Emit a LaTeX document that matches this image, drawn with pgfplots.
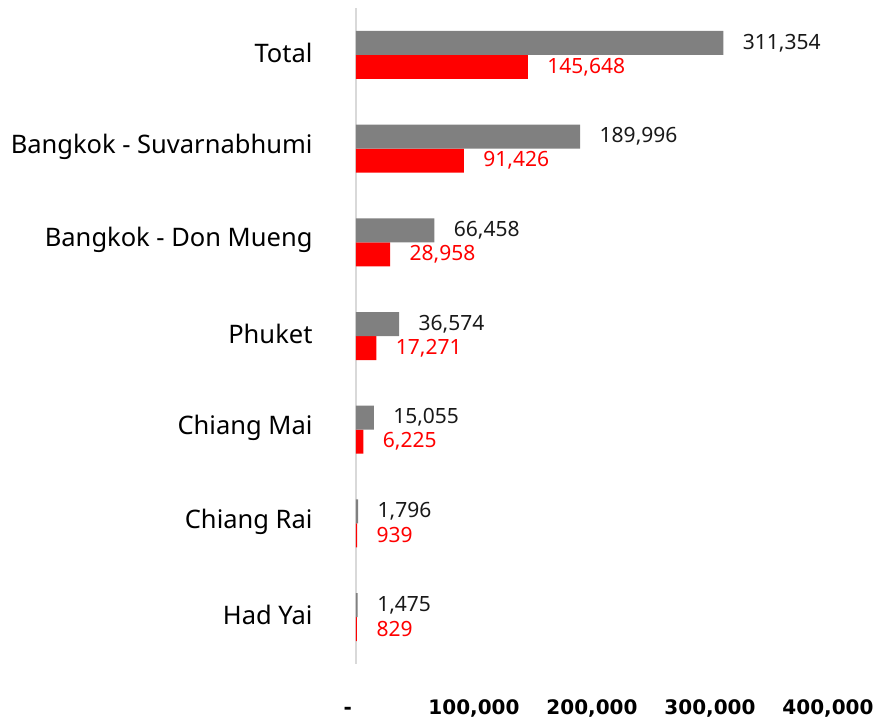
\documentclass[border=0pt]{standalone}
\usepackage{pgfplots}
\pgfplotsset{compat=1.18}
\usepackage{fontspec}
\setmainfont{Noto Sans}
\newfontfamily\tickfont{DejaVu Sans}
\definecolor{bargrey}{HTML}{808080}
\definecolor{barred}{HTML}{FF0000}
\definecolor{axisgrey}{HTML}{D9D9D9}
\begin{document}
\begin{tikzpicture}
\path[use as bounding box] (-356pt,-57pt) rectangle (522pt,664pt);
\begin{axis}[
  at={(0,0)}, anchor=south west,
  scale only axis, width=472pt, height=656pt,
  xbar=0pt, bar width=24pt,
  y dir=reverse,
  xmin=0, xmax=400000, ymin=-0.5, ymax=6.5,
  ytick={0,...,6},
  yticklabels={Total, Bangkok - Suvarnabhumi, Bangkok - Don Mueng, Phuket, Chiang Mai, Chiang Rai, Had Yai},
  xtick={0,100000,200000,300000,400000},
  xticklabels={{\vphantom{0,}\makebox[0pt][r]{-\hspace{4pt}}},{100,000},{200,000},{300,000},{400,000}},
  scaled x ticks=false,
  major tick length=0pt,
  axis lines*=left,
  axis line style={-},
  x axis line style={draw=none},
  y axis line style={draw=axisgrey, line width=1.5pt},
  yticklabel style={font=\fontsize{25.5}{30}\selectfont, anchor=east, xshift=-40pt, yshift=2pt},
  xticklabel style={font=\tickfont\bfseries\fontsize{20}{24}\selectfont, yshift=-32pt},
  point meta=x,
  nodes near coords,
  /pgf/number format/fixed,
  /pgf/number format/precision=0,
  /pgf/number format/1000 sep={,},
  /pgf/number format/assume math mode=true,
  nodes near coords style={anchor=west, xshift=16pt, font=\fontsize{21}{25}\selectfont},
  clip=false,
]
\addplot[fill=barred, draw=none, nodes near coords style={text=barred}] coordinates {
  (145648,0) (91426,1) (28958,2) (17271,3) (6225,4) (939,5) (829,6)};
\addplot[fill=bargrey, draw=none, nodes near coords style={text=black!90}] coordinates {
  (311354,0) (189996,1) (66458,2) (36574,3) (15055,4) (1796,5) (1475,6)};
\end{axis}
\end{tikzpicture}
\end{document}
